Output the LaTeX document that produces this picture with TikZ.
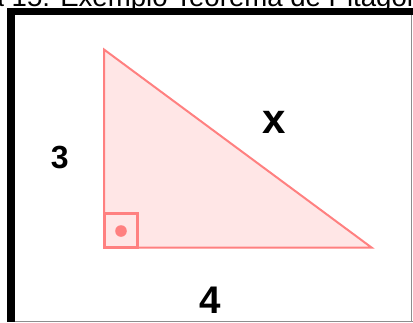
\documentclass[tikz,border=0pt]{standalone}
\usepackage{fontspec}
\setmainfont{Liberation Sans}
\usetikzlibrary{positioning}
\definecolor{trired}{HTML}{FF8080}
\definecolor{trifill}{HTML}{FFE6E6}
\definecolor{framegray}{HTML}{8E8E8E}
\begin{document}
\begin{tikzpicture}[x=1pt,y=-1pt,
  lado/.style={font=\bfseries\fontsize{#1}{#1}\selectfont,inner sep=0pt},
  legenda/.style={font=\fontsize{27.6}{28}\selectfont,inner sep=0pt,anchor=base west},
  tri/.style={draw=trired,line width=2pt,fill=trifill,line join=miter},
  ang/.style={draw=trired,line width=3pt}]
  \useasboundingbox (0,0) rectangle (413,322);
  \clip (0,0) rectangle (413,322);
  \node[legenda] (titulo) at (-11.5,6.5) {\llap{Figur}a 15: Exemplo Teorema de Pitágoras};
  % moldura
  \fill[black] (7,8) rectangle (413,15.3);
  \fill[black] (7,8) rectangle (14.7,322);
  \draw[framegray,line width=1pt] (411.5,15.3) -- (411.5,322);
  \draw[framegray,line width=1pt] (14.7,321.3) -- (413,321.3);
  % triangulo
  \coordinate (a) at (104,49.5);
  \coordinate (b) at (104,247.5);
  \coordinate (c) at (371.5,247.5);
  \draw[tri] (a) -- (b) -- (c) -- cycle;
  \draw[ang] (b) rectangle (137.5,213.5);
  \fill[trired] (121,231) circle[radius=5.8pt];
  \node[lado=32] (cat3) at (59.7,157.7) {3};
  \node[lado=42] (hip)  at (274.3,122)  {x};
  \node[lado=38.5] (cat4) at (210,300.5)  {4};
\end{tikzpicture}
\end{document}
